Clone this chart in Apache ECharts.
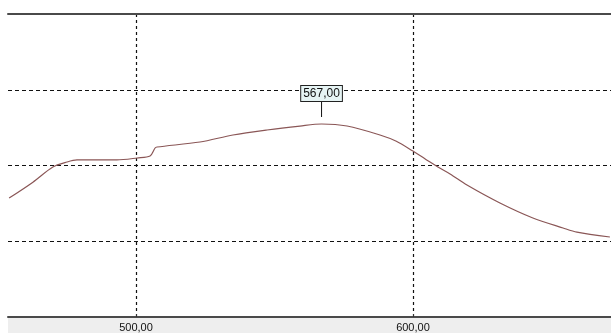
<!DOCTYPE html>
<html><head><meta charset="utf-8">
<script src="https://cdn.jsdelivr.net/npm/echarts@6/dist/echarts.min.js"></script>
<style>html,body{margin:0;padding:0;background:#fff}#c{width:611px;height:333px}</style>
</head><body><div id="c"></div>
<script>
const xValues = [454.2, 462.8, 470.0, 475.1, 478.7, 493.1, 500.4, 505.1, 506.9, 507.6, 523.1, 535.0, 547.3, 559.2, 567.0, 576.2, 588.1, 594.0, 600.0, 604.3, 609.0, 613.4, 619.5, 631.4, 643.3, 654.2, 659.2, 671.1];
const yValues = [1.57, 1.78, 1.98, 2.046, 2.073, 2.073, 2.099, 2.125, 2.231, 2.244, 2.31, 2.403, 2.469, 2.521, 2.548, 2.521, 2.403, 2.32, 2.19, 2.09, 1.98, 1.888, 1.742, 1.505, 1.307, 1.175, 1.12, 1.056];
const xTicks = [500, 600];
const peakX = 567.0;
const peakLabel = '567,00';

const data = xValues.map((x, i) => [x, yValues[i]]);
const peakY = yValues[xValues.indexOf(peakX)];

const chart = echarts.init(document.getElementById('c'));
chart.setOption({
  animation: false,
  grid: {left: 8, right: 0, top: 14, bottom: 16},
  graphic: [{type: 'rect', left: 8, bottom: 0, shape: {width: 603, height: 15}, style: {fill: '#eeeeee'}, z: -1}],
  xAxis: [{
    type: 'value', min: 453.8, max: 671.5, position: 'bottom',
    axisLine: {show: true, lineStyle: {color: '#4a4a4a', width: 2}},
    axisTick: {show: true, customValues: xTicks, length: 3, inside: true, lineStyle: {color: '#333'}},
    axisLabel: {customValues: xTicks, formatter: v => v.toFixed(2).replace('.', ','), color: '#111', fontFamily: 'Liberation Sans', fontSize: 11, margin: 5},
    splitLine: {show: true, lineStyle: {color: '#111', type: [3, 3], width: 1.2}}
  }, {
    type: 'value', min: 453.8, max: 671.5, position: 'top',
    axisLine: {show: true, lineStyle: {color: '#4a4a4a', width: 2}},
    axisTick: {show: false}, axisLabel: {show: false}, splitLine: {show: false}
  }],
  yAxis: {
    type: 'value', min: 0, max: 4, interval: 1,
    axisLine: {show: false}, axisTick: {show: false}, axisLabel: {show: false},
    splitLine: {show: true, lineStyle: {color: '#111', type: [4, 3], width: 1.2}}
  },
  series: [{
    type: 'line', data: data, showSymbol: false, smooth: 0.3,
    lineStyle: {color: '#8a5656', width: 1.2},
    markPoint: {
      silent: true,
      data: [{
        coord: [peakX, peakY], symbol: 'rect', symbolSize: [1, 16], symbolOffset: [0, -15],
        itemStyle: {color: '#111'},
        label: {show: true, position: 'top', distance: 0, formatter: peakLabel,
          backgroundColor: '#e6f4f4', borderColor: '#222', borderWidth: 1,
          padding: [2, 2, 1, 2], color: '#111', fontFamily: 'Liberation Sans', fontSize: 12}
      }]
    }
  }]
});
</script></body></html>
